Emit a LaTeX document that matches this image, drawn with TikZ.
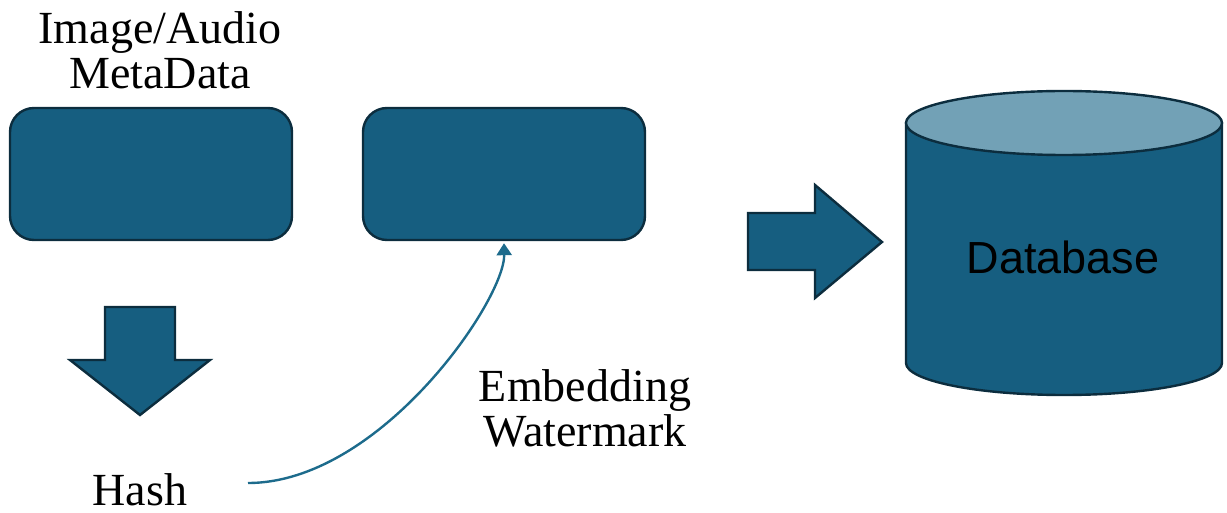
\documentclass[tikz,border=0pt]{standalone}
\usepackage{fontspec}
\setmainfont{Liberation Serif}
\setsansfont{Liberation Sans}
\usetikzlibrary{arrows.meta,positioning}
\definecolor{boxfill}{HTML}{165E80}
\definecolor{boxedge}{HTML}{0C2D3E}
\definecolor{topfill}{HTML}{72A1B6}
\definecolor{curveln}{HTML}{1D6B8C}

\begin{document}
\begin{tikzpicture}[x=0.5pt, y=-0.5pt,
  blk/.style={rounded corners=12pt, draw=boxedge, line width=1.2pt, fill=boxfill,
              minimum width=141pt, minimum height=66pt, inner sep=0pt},
  lbl/.style={font=\fontsize{23}{22.5}\selectfont, align=center, inner sep=0pt},
  bigarr/.style={draw=boxedge, line width=1.2pt, fill=boxfill, line join=miter},
  fl/.style={-{Triangle[length=6pt, width=7.5pt]}, line width=1.2pt, draw=curveln},
]
\useasboundingbox (0,0) rectangle (1227,513);
\node[blk] (meta) at (151,174) {};
\node[blk] (mark) at (504,174) {};
\node[lbl] (lblmeta) at (160,50) {Image/Audio\\MetaData};
\node[lbl] (hash) at (140,490) {Hash};
\node[lbl] (lblembed) at (585,408) {Embedding\\Watermark};

% block arrows
\draw[bigarr] (105,307) -- (175,307) -- (175,360) -- (210,360) -- (140,415)
  -- (70,360) -- (105,360) -- cycle;
\draw[bigarr] (748,213) -- (815,213) -- (815,185) -- (882,242) -- (815,298)
  -- (815,270) -- (748,270) -- cycle;

% database
\draw[bigarr] (906,123) -- (906,363) arc[start angle=180, end angle=0, x radius=158, y radius=32]
  -- (1222,123) -- cycle;
\draw[bigarr, fill=topfill] (1064,123) ellipse [x radius=158, y radius=32];
\node[font=\sffamily\fontsize{22.5}{24}\selectfont, inner sep=0pt] (db) at (1063,257) {Database};

\coordinate (hstart) at (248,483);
\draw[fl] (hstart) .. controls (380,483) and (505,300) .. ([yshift=-1pt]mark.south);
\end{tikzpicture}
\end{document}
